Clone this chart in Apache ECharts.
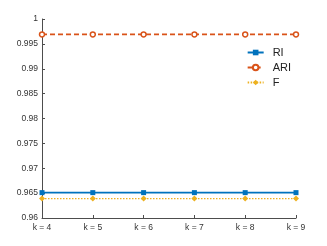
<!DOCTYPE html>
<html><head><meta charset="utf-8">
<script src="https://cdn.jsdelivr.net/npm/echarts@6/dist/echarts.min.js"></script>
<style>html,body{margin:0;padding:0;background:#fff}#c{width:327px;height:246px}</style>
</head><body><div id="c"></div>
<script>
const categories = ['k = 4','k = 5','k = 6','k = 7','k = 8','k = 9'];
const riValues = [0.9651, 0.9651, 0.9651, 0.9651, 0.9651, 0.9651];
const ariValues = [0.9969, 0.9969, 0.9969, 0.9969, 0.9969, 0.9969];
const fValues = [0.9639, 0.9639, 0.9639, 0.9639, 0.9639, 0.9639];
const yTicks = [0.96, 0.965, 0.97, 0.975, 0.98, 0.985, 0.99, 0.995, 1];

const axisColor = '#4d4d4d';
const chart = echarts.init(document.getElementById('c'));
chart.setOption({
  animation: false,
  grid: {left: 42, right: 31, top: 19, bottom: 28},
  legend: {
    orient: 'vertical', right: 31, top: 42, itemWidth: 16, itemHeight: 7, itemGap: 4,
    textStyle: {fontFamily: 'Liberation Sans, Arial', fontSize: 11, color: '#222', padding: [0, 0, 0, 4]},
    data: ['RI','ARI','F']
  },
  xAxis: {
    type: 'category', data: categories, boundaryGap: false,
    axisLine: {lineStyle: {color: axisColor, width: 1}},
    axisTick: {inside: true, length: 3, lineStyle: {color: axisColor}},
    axisLabel: {fontFamily: 'Liberation Sans, Arial', fontSize: 8.5, color: '#333', margin: 5}
  },
  yAxis: {
    type: 'value', min: 0.96, max: 1, interval: 0.005,
    axisLine: {show: true, lineStyle: {color: axisColor, width: 1}},
    axisTick: {show: true, inside: true, length: 3, lineStyle: {color: axisColor}},
    splitLine: {show: false},
    axisLabel: {fontFamily: 'Liberation Sans, Arial', fontSize: 8.5, color: '#333', margin: 4,
      formatter: v => { const t = yTicks.find(x => Math.abs(x - v) < 1e-9); return t === undefined ? '' : String(+t.toFixed(3)); }}
  },
  series: [
    {name: 'RI', type: 'line', data: riValues, symbol: 'rect', symbolSize: 5,
     lineStyle: {color: '#0072BD', width: 1.6}, itemStyle: {color: '#0072BD'}},
    {name: 'ARI', type: 'line', data: ariValues, symbol: 'circle', symbolSize: 5,
     lineStyle: {color: '#D95319', width: 1.6, type: [5, 3]}, itemStyle: {color: '#fff', borderColor: '#D95319', borderWidth: 1.5}},
    {name: 'F', type: 'line', data: fValues, symbol: 'diamond', symbolSize: 6,
     lineStyle: {color: '#EDB120', width: 1.4, type: [1.5, 1.5]}, itemStyle: {color: '#EDB120'}}
  ]
});
</script></body></html>
